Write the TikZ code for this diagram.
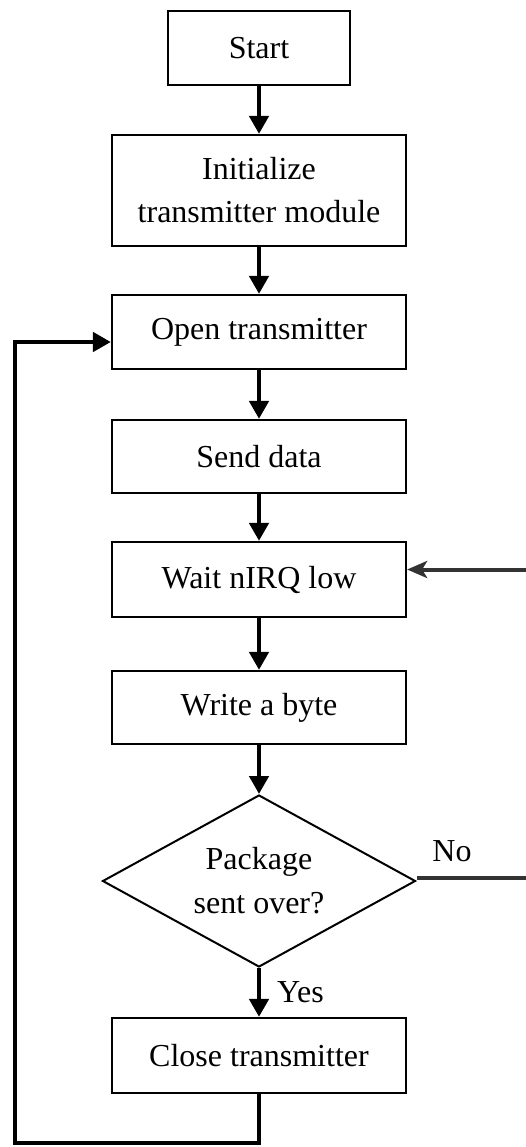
\documentclass[tikz,border=0pt]{standalone}
\usepackage{fontspec}
\setmainfont{Liberation Serif}
\usetikzlibrary{arrows.meta,shapes.geometric,calc}

\tikzset{
  stepbox/.style={draw=black, line width=2.2pt, fill=white, minimum width=294pt,
    inner sep=0pt, align=center, font=\fontsize{32}{43}\selectfont},
  decision/.style={draw=black, line width=2pt, diamond, aspect=1.82,
    minimum width=313pt, minimum height=172pt, inner sep=0pt, align=center,
    font=\fontsize{32}{44}\selectfont},
  flow/.style={line width=4.5pt, -{Triangle[length=18pt,width=19pt]}},
  back/.style={line width=4pt, draw=black!80, -{Stealth[length=20pt,width=17pt,inset=5pt]}},
  lbl/.style={font=\fontsize{32}{40}\selectfont, inner sep=0pt}
}

\begin{document}
\begin{tikzpicture}[x=1pt,y=-1pt]
\useasboundingbox (0,0) rectangle (525,1147);

% process steps
\node[stepbox, minimum width=182pt, minimum height=74pt] (start) at (259,48) {Start};
\node[stepbox, minimum height=111pt] (init) at (259,190.5) {Initialize\\transmitter module};
\node[stepbox, minimum height=74pt] (open) at (259,332) {Open transmitter};
\node[stepbox, minimum height=73pt] (send) at (259,456.5) {Send data};
\node[stepbox, minimum height=75pt] (wait) at (259,579.5) {Wait nIRQ low};
\node[stepbox, minimum height=73pt] (write) at (259,707.5) {Write a byte};
\node[decision] (dec) at (259,881) {Package\\sent over?};
\node[stepbox, minimum height=75pt] (close) at (259,1055.5) {Close transmitter};

% labels
\node[lbl] (no) at (452,851) {No};
\node[lbl, anchor=west] (yes) at (277,992) {Yes};

% main flow
\draw[flow] (start.south) -- (init.north);
\draw[flow] (init.south) -- (open.north);
\draw[flow] (open.south) -- (send.north);
\draw[flow] (send.south) -- (wait.north);
\draw[flow] (wait.south) -- (write.north);
\draw[flow] (write.south) -- (dec.north);
\draw[flow] (dec.south) -- (close.north);

% loop back to open transmitter
\coordinate (lb) at (15,1143);
\draw[flow, line cap=rect] (close.south) |- (lb) |- ($(open.west)+(0,10)$);

% "No" branch back to wait (vertical part runs beyond the right edge)
\coordinate (rt) at (534,878);
\draw[back] ($(dec.east)+(0,-3)$) -- (rt) |- ($(wait.east)+(0,-10)$);
\end{tikzpicture}
\end{document}
